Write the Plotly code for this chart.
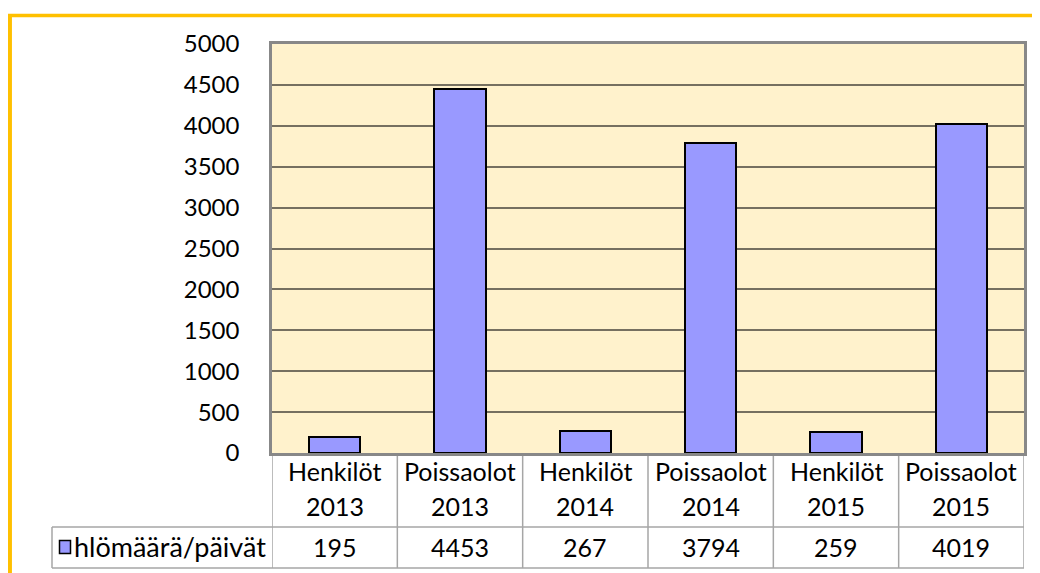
import plotly.graph_objects as go

categories = ["Henkilöt 2013", "Poissaolot 2013", "Henkilöt 2014",
              "Poissaolot 2014", "Henkilöt 2015", "Poissaolot 2015"]
values = [195, 4453, 267, 3794, 259, 4019]
series_name = "hlömäärä/päivät"
y_ticks = list(range(0, 5001, 500))

FONT = "Lato"
FS = 24
FS_T = 25
BAR = "#9999FF"
GRID = "#767060"
TABLE_LINE = "#A6A6A6"
GOLD = "#FFC000"

OFF = 8  # page body margin in the browser
W, H = 1040 - OFF, 573 - OFF
ML = 272 - OFF
MR = W - (1024 - OFF)
MT = 44 - OFF
MB = H - (453.5 - OFF)
PW, PH = W - ML - MR, H - MT - MB


def px_x(p):
    return (p - OFF - ML) / PW


def px_y(p):
    return (H - MB - (p - OFF)) / PH


fig = go.Figure()
fig.add_trace(go.Bar(
    x=categories, y=values, name=series_name, width=0.41,
    marker=dict(color=BAR, line=dict(color="black", width=2)),
    showlegend=False,
))

row1 = px_y(527.7)
row2 = px_y(568.7)
left_cell = px_x(52)

shapes = []
for i in range(len(categories) + 1):
    shapes.append(dict(type="line", xref="x", yref="paper",
                       x0=i - 0.5, x1=i - 0.5, y0=0, y1=row2,
                       line=dict(color=TABLE_LINE, width=1.5), layer="below"))
for yy in (row1, row2):
    shapes.append(dict(type="line", xref="paper", yref="paper",
                       x0=left_cell, x1=1, y0=yy, y1=yy,
                       line=dict(color=TABLE_LINE, width=1.5)))
shapes.append(dict(type="line", xref="paper", yref="paper",
                   x0=left_cell, x1=left_cell, y0=row1, y1=row2,
                   line=dict(color=TABLE_LINE, width=1.5)))
shapes.append(dict(type="rect", xref="paper", yref="paper",
                   x0=px_x(59.5), x1=px_x(70.5), y0=px_y(554), y1=px_y(541),
                   fillcolor=BAR, line=dict(color="black", width=1.5)))
shapes.append(dict(type="line", xref="paper", yref="paper",
                   x0=px_x(8), x1=px_x(1045), y0=px_y(15.5), y1=px_y(15.5),
                   line=dict(color=GOLD, width=3.5)))
shapes.append(dict(type="line", xref="paper", yref="paper",
                   x0=px_x(9.7), x1=px_x(9.7), y0=px_y(14), y1=px_y(580),
                   line=dict(color=GOLD, width=4.5)))

annotations = []
for c, v in zip(categories, values):
    first, second = c.split(" ")
    for txt, yy in ((first, 472), (second, 507)):
        annotations.append(dict(xref="x", yref="paper", x=c, y=px_y(yy),
                                text=txt, showarrow=False,
                                yanchor="middle", xanchor="center",
                                font=dict(family=FONT, size=FS_T, color="black")))
    annotations.append(dict(xref="x", yref="paper", x=c, y=px_y(547.5),
                            text=str(v), showarrow=False,
                            yanchor="middle", xanchor="center",
                            font=dict(family=FONT, size=FS_T, color="black")))
annotations.append(dict(xref="paper", yref="paper", x=px_x(72), y=px_y(547.5),
                        text=series_name, showarrow=False,
                        xanchor="left", yanchor="middle",
                        font=dict(family=FONT, size=27, color="black")))

fig.update_layout(
    width=W, height=H,
    margin=dict(l=ML, r=MR, t=MT, b=MB),
    paper_bgcolor="white",
    plot_bgcolor="#FFF2CC",
    font=dict(family=FONT, size=FS, color="black"),
    shapes=shapes,
    annotations=annotations,
    bargap=0,
    xaxis=dict(range=[-0.5, 5.5], showticklabels=False, showgrid=False,
               showline=True, mirror=True, linecolor="#888888", linewidth=2.5,
               zeroline=False, ticks=""),
    yaxis=dict(range=[0, 5000], tickvals=y_ticks, ticks="",
               showgrid=True, gridcolor=GRID, gridwidth=1.6,
               showline=True, mirror=True, linecolor="#888888", linewidth=2.5,
               zeroline=False, ticklabelstandoff=25,
               tickfont=dict(family=FONT, size=FS, color="black")),
)

fig.write_html("out.html")
